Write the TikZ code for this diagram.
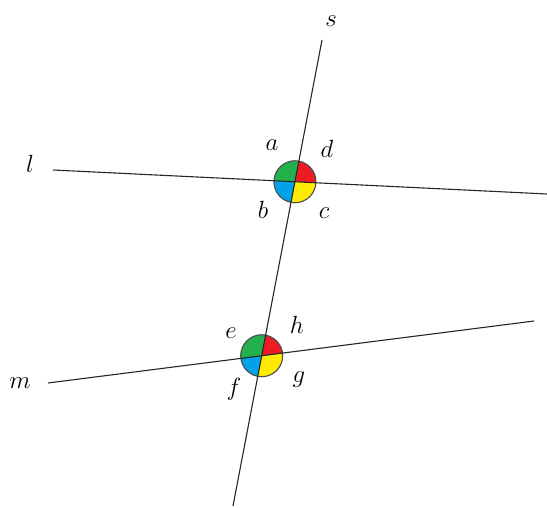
\documentclass[tikz,border=0pt]{standalone}
\usetikzlibrary{calc}
\definecolor{cg}{RGB}{34,177,76}
\definecolor{cr}{RGB}{237,28,36}
\definecolor{cb}{RGB}{0,162,232}
\definecolor{cy}{RGB}{255,235,0}
\begin{document}
\begin{tikzpicture}[x=1pt,y=-1pt,
  ln/.style={line width=1.1pt, black!85},
  ring/.style={line width=1.1pt, black!70},
  lab/.style={font=\fontsize{29}{29}\selectfont, inner sep=0pt}]
\useasboundingbox (0,0) rectangle (547,508);
\coordinate (sT) at (322,40);
\coordinate (sB) at (233,506);
\coordinate (lL) at (53,170);
\coordinate (lR) at (547,194);
\coordinate (mL) at (48,383);
\coordinate (mR) at (534,321);
\coordinate (P) at (intersection of sT--sB and lL--lR);
\coordinate (Q) at (intersection of sT--sB and mL--mR);
\foreach \c/\u/\v/\col in {P/sT/lL/cg, P/sT/lR/cr, P/sB/lL/cb, P/sB/lR/cy,
                           Q/sT/mL/cg, Q/sT/mR/cr, Q/sB/mL/cb, Q/sB/mR/cy} {
  \begin{scope}
    \clip (\c) circle (21pt);
    \fill[\col] (\c) -- ($(\c)!60pt!(\u)$) -- ($(\c)!60pt!(\v)$) -- cycle;
  \end{scope}
}
\draw[ring] (P) circle (21pt);
\draw[ring] (Q) circle (21pt);
\draw[ln] (sT) -- (sB);
\draw[ln] (lL) -- (lR);
\draw[ln] (mL) -- (mR);
\node[lab] (ls) at (331,21) {$s$};
\node[lab] (ll) at (30,164) {$l$};
\node[lab] (lm) at (20,383) {$m$};
\node[lab] (la) at (272,145) {$a$};
\node[lab] (ld) at (327,149) {$d$};
\node[lab] (lb) at (263,210) {$b$};
\node[lab] (lc) at (324,213) {$c$};
\node[lab] (le) at (231,333) {$e$};
\node[lab] (lh) at (297,325) {$h$};
\node[lab] (lf) at (234,389) {$f$};
\node[lab] (lg) at (299,380) {$g$};
\end{tikzpicture}
\end{document}
